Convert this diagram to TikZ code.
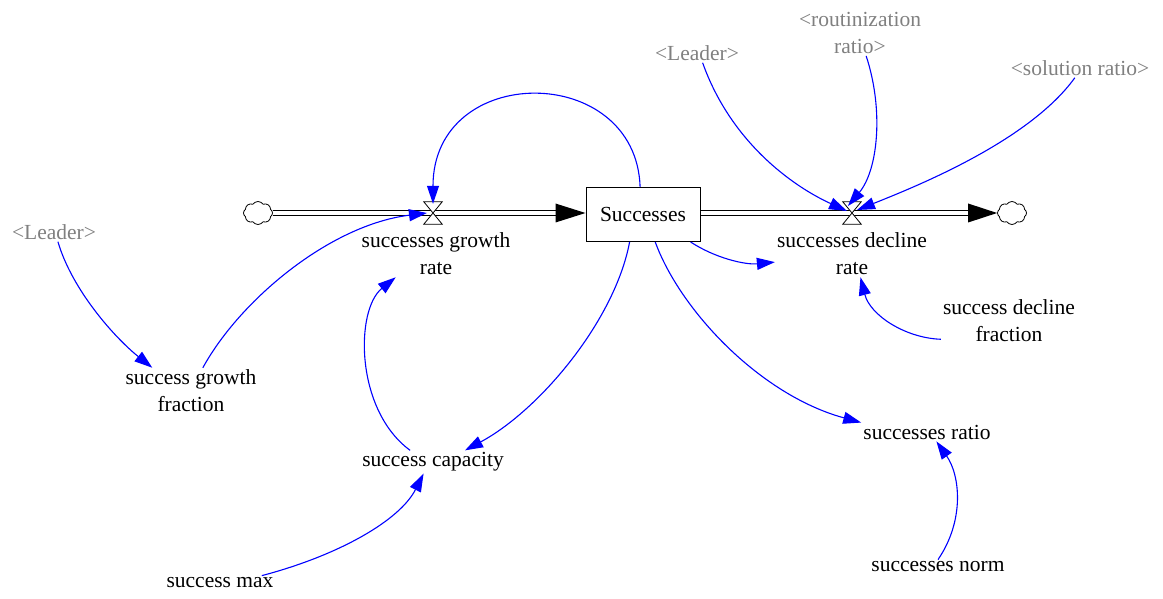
\documentclass[tikz,border=0pt]{standalone}
\usepackage{fontspec}
\setmainfont{Liberation Serif}
\usetikzlibrary{arrows.meta,shapes.symbols,calc}
\definecolor{vgray}{RGB}{128,128,128}
\begin{document}
\begin{tikzpicture}[x=1pt,y=-1pt,
 lbl/.style={font=\fontsize{21.5}{27}\selectfont, align=center, inner sep=2pt},
 shadowvar/.style={lbl, text=vgray},
 link/.style={draw=blue, line width=1.1pt, -{Triangle[length=18pt,width=12pt]}},
 pipe/.style={draw=black, line width=1.2pt, double=white, double distance=3.6pt},
 cloudy/.style={cloud, cloud puffs=8, cloud puff arc=110, draw, line width=0.8pt, minimum width=29pt, minimum height=23pt, inner sep=0pt, fill=white},
 valve/.style={inner sep=0pt, minimum width=18pt, minimum height=22pt},
 valvedraw/.style={fill=white, draw=black, line width=0.8pt},
]
\useasboundingbox (0,0) rectangle (1163,599);

% stock and clouds
\node[lbl, draw, line width=1pt, minimum width=114pt, minimum height=54pt, fill=white] (succ) at (643,214.5) {Successes};
\node[cloudy] (cl) at (258,213) {};
\node[cloudy] (cr) at (1012,213) {};
\node[valve] (vg) at (433,213) {};
\node[valve] (vd) at (852,213) {};

% pipes
\draw[pipe] (cl.east) -- ($(succ.west |- cl.east)+(-28,0)$);
\fill ($(succ.west |- cl.east)+(-30,-9.5)$) -- (succ.west |- cl.east) -- ($(succ.west |- cl.east)+(-30,9.5)$) -- cycle;
\draw[pipe] (succ.east |- cr.west) -- ($(cr.west)+(-26,0)$);
\fill ($(cr.west)+(-29,-9.5)$) -- (cr.west) -- ($(cr.west)+(-29,9.5)$) -- cycle;

% valves
\draw[valvedraw] (vg.north west) -- (vg.north east) -- (vg.south west) -- (vg.south east) -- cycle;
\draw[valvedraw] (vd.north west) -- (vd.north east) -- (vd.south west) -- (vd.south east) -- cycle;

% labels
\node[lbl] (sgr) at (436,254) {successes growth\\rate};
\node[lbl] (sdr) at (852,254) {successes decline\\rate};
\node[shadowvar] (leaderL) at (54,232) {\textless Leader\textgreater};
\node[lbl] (sgf) at (191,391) {success growth\\fraction};
\node[lbl] (scap) at (433,462) {success capacity};
\node[lbl] (smax) at (220,583) {success max};
\node[lbl] (sratio) at (927,432) {successes ratio};
\node[lbl] (snorm) at (938,567) {successes norm};
\node[lbl] (sdf) at (1009,321) {success decline\\fraction};
\node[shadowvar] (leaderT) at (697,53) {\textless Leader\textgreater};
\node[shadowvar] (rout) at (860,33) {\textless routinization\\ratio\textgreater};
\node[shadowvar] (solr) at (1080,68) {\textless solution ratio\textgreater};

% links
\draw[link] (succ.96) .. controls (636,62) and (433,62) .. ($(vg.north)+(0,2)$);
\draw[link] (leaderL.-68) .. controls (72,290) and (115,338) .. (sgf.149);
\draw[link] (sgf.63) .. controls (240,300) and (330,225) .. ($(vg.center)+(-6,0)$);
\draw[link] (scap.153) .. controls (355,410) and (355,310) .. (sgr.210);
\draw[link] (succ.-116) .. controls (615,320) and (540,410) .. (scap.20);
\draw[link] (smax.10) .. controls (340,555) and (400,520) .. (scap.-129);
\draw[link] (succ.-66) .. controls (680,310) and (760,395) .. (sratio.north west);
\draw[link] (succ.-30) .. controls (715,258) and (745,265) .. (sdr.186);
\draw[link] (sdf.195) .. controls (905,338) and (870,315) .. (sdr.-70);
\draw[link] (snorm.north) .. controls (965,520) and (960,475) .. (sratio.-45);
\draw[link] (leaderT.-60) .. controls (730,140) and (790,185) .. ($(vd.center)+(-5,-2)$);
\draw[link] (rout.-75) .. controls (884,110) and (878,170) .. ($(vd.center)+(-4,-7)$);
\draw[link] (solr.-118) .. controls (1030,140) and (920,185) .. ($(vd.center)+(5,-3)$);
\end{tikzpicture}
\end{document}
